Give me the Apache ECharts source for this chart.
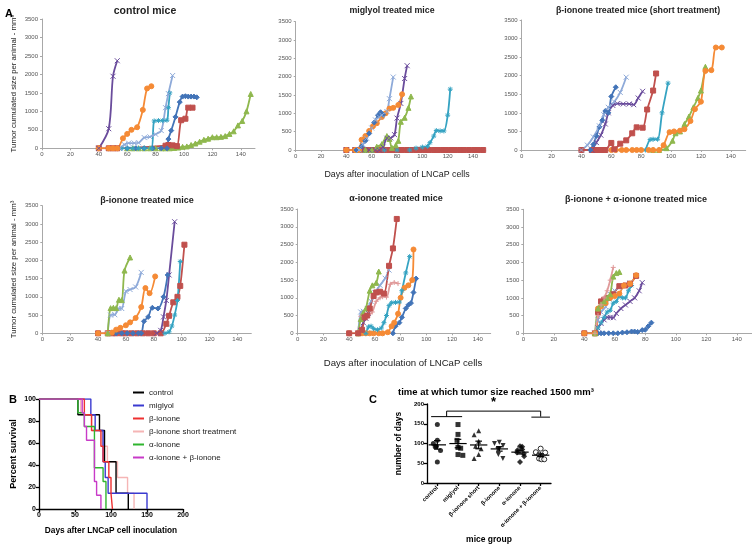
<!DOCTYPE html>
<html><head><meta charset="utf-8">
<script src="https://cdn.jsdelivr.net/npm/echarts@6/dist/echarts.min.js"></script>
<style>html,body{margin:0;padding:0;background:#fff}#c{width:752px;height:545px}</style>
</head><body><div id="c"></div>
<script>
// ---------- Panel A data: [day, tumour size mm3] ----------
const c_purple=[[40,0],[47,530],[50,1950],[53,2370]];
const c_orange=[[40,0],[47,0],[50,0],[53,0],[57,270],[60,390],[63,500],[67,570],[71,1040],[74,1620],[77,1680]];
const c_lightblue=[[55,0],[58,100],[61,140],[65,140],[68,150],[72,290],[76,310],[80,380],[84,480],[87,1100],[89,1480],[92,1970]];
const c_teal=[[56,0],[60,0],[64,0],[68,0],[72,0],[77,0],[79,740],[82,750],[85,750],[88,760],[89,1100],[90,1500]];
const c_darkblue=[[60,0],[66,0],[72,0],[78,0],[84,0],[88,0],[89,250],[91,480],[94,850],[97,1250],[99,1400],[101,1410],[103,1400],[105,1400],[107,1400],[109,1380]];
const c_red=[[40,0],[47,0],[50,0],[53,0],[87,70],[89,90],[92,80],[95,60],[98,760],[101,800],[103,1100],[106,1100]];
const c_green=[[60,0],[64,0],[68,0],[72,0],[76,0],[80,0],[84,0],[87,0],[90,0],[93,10],[96,20],[99,40],[102,50],[105,90],[108,130],[111,180],[114,230],[117,260],[120,300],[123,300],[126,310],[129,330],[132,390],[135,460],[138,620],[141,740],[144,1000],[147,1470]];

const m_lightblue=[[50,0],[53,150],[56,320],[60,600],[63,820],[66,900],[68,950],[72,1050],[74,1400],[77,1990]];
const m_darkblue=[[48,0],[52,100],[55,250],[58,450],[62,750],[65,950],[67,1030],[69,960]];
const m_orange=[[40,0],[47,0],[50,0],[52,280],[55,380],[58,520],[61,650],[64,730],[68,900],[71,1000],[74,1130],[77,1150],[81,1230],[84,1520]];
const m_purple=[[40,0],[47,0],[52,0],[58,0],[63,0],[66,0],[69,80],[72,320],[75,330],[78,420],[80,870],[83,1270],[86,1950],[88,2300]];
const m_green=[[48,0],[55,0],[60,0],[64,90],[68,160],[72,380],[74,300],[76,60],[79,130],[81,250],[83,770],[86,880],[89,1150],[91,1460]];
const m_teal=[[70,0],[80,0],[90,0],[95,50],[100,80],[104,100],[106,200],[109,380],[111,530],[114,520],[117,520],[120,950],[122,1660]];
const m_red=[[40,0],[47,0],[50,0],[53,0],[56,0],[60,0],[63,0],[67,0],[70,0],[74,0],[77,0],[81,0],[84,0],[88,0],[91,0],[95,0],[98,0],[102,0],[105,0],[109,0],[112,0],[116,0],[119,0],[123,0],[126,0],[130,0],[133,0],[137,0],[141,0],[144,0],[148,0]];

const s_lightblue=[[40,0],[44,130],[48,350],[52,650],[55,950],[58,1150],[62,1300],[66,1550],[70,1960]];
const s_darkblue=[[46,0],[48,150],[50,380],[52,620],[54,800],[56,1050],[58,1000],[60,1440],[63,1690]];
const s_purple=[[47,0],[50,200],[53,400],[56,700],[58,1000],[61,1200],[64,1250],[68,1240],[72,1240],[75,1220],[78,1400],[81,1580]];
const s_red=[[40,0],[47,0],[50,0],[53,0],[56,0],[60,190],[62,20],[66,170],[70,260],[74,450],[77,610],[81,600],[84,1090],[88,1600],[90,2060]];
const s_orange=[[60,0],[63,0],[67,0],[70,0],[74,0],[77,0],[80,0],[85,0],[88,0],[92,0],[95,130],[99,480],[102,500],[106,520],[109,560],[113,780],[116,1100],[120,1300],[123,2130],[127,2150],[130,2760],[134,2760]];
const s_teal=[[83,0],[86,280],[88,290],[91,290],[94,1000],[98,1800]];
const s_green=[[88,0],[92,0],[97,50],[101,250],[103,450],[106,500],[109,700],[112,900],[115,1150],[118,1400],[120,1600],[123,2240]];

const b_green=[[47,0],[49,690],[51,700],[53,690],[55,920],[57,910],[59,1720],[63,2080]];
const b_lightblue=[[47,0],[49,500],[52,510],[55,680],[57,680],[60,1150],[63,1200],[67,1270],[71,1670]];
const b_orange=[[40,0],[47,0],[50,20],[53,100],[56,150],[60,220],[63,300],[67,420],[71,720],[74,1240],[77,1100],[81,1560]];
const b_darkblue=[[53,0],[57,0],[61,0],[65,0],[69,0],[71,0],[73,330],[76,450],[79,700],[83,680],[87,1000],[90,1600]];
const b_purple=[[82,0],[85,80],[87,450],[89,900],[91,1600],[95,3060]];
const b_teal=[[88,0],[91,40],[93,200],[95,500],[97,900],[99,1970]];
const b_red=[[40,0],[47,0],[50,0],[53,0],[57,0],[60,0],[64,0],[68,0],[72,0],[76,0],[80,0],[85,0],[89,260],[91,480],[94,850],[97,1000],[99,1300],[102,2430]];

const a_red=[[40,0],[47,0],[50,100],[52,450],[54,500],[56,700],[59,1050],[61,1150],[64,1170],[67,1120],[71,1900],[74,2390],[77,3220]];
const a_green=[[47,0],[49,400],[51,580],[53,700],[56,1200],[58,1350],[61,1420],[63,1740]];
const a_lightblue=[[47,0],[49,600],[51,620],[54,700],[57,900],[60,1150],[64,1350],[68,1550],[71,1780]];
const a_pink=[[47,0],[49,480],[52,500],[55,520],[58,600],[61,900],[64,1000],[66,1030],[69,1020],[72,1380],[75,1430],[78,1400]];
const a_purple=[[47,0],[49,80],[51,300],[53,420],[55,560]];
const a_teal=[[53,0],[55,180],[57,200],[59,130],[62,100],[65,150],[67,300],[69,500],[71,780],[73,860],[76,870],[79,880],[81,1200],[84,1700],[87,2160]];
const a_orange=[[40,0],[47,0],[50,0],[53,0],[56,0],[59,0],[63,0],[66,0],[70,30],[73,200],[75,300],[78,550],[80,1000],[83,1280],[86,1350],[89,1500],[90,2360]];
const a_darkblue=[[74,0],[76,200],[79,300],[81,450],[84,700],[86,800],[88,850],[90,1150],[92,1540]];

const ab_darkblue=[[40,0],[47,0],[49,0],[51,0],[53,0],[56,0],[59,0],[62,0],[65,20],[68,30],[71,50],[73,50],[75,40],[78,90],[80,100],[82,200],[84,300]];
const ab_pink=[[47,0],[49,500],[51,800],[53,1000],[55,1200],[57,1500],[59,1860]];
const ab_green=[[47,0],[49,700],[51,820],[53,900],[55,1000],[57,1100],[59,1600],[61,1700],[63,1730]];
const ab_red=[[40,0],[47,0],[49,600],[51,900],[53,950],[56,1000],[59,1100],[63,1330],[67,1350],[70,1400],[74,1620]];
const ab_orange=[[40,0],[47,0],[49,700],[51,760],[54,850],[57,1000],[60,1050],[63,1120],[66,1350],[70,1400],[74,1640]];
const ab_lightblue=[[47,0],[49,380],[51,600],[54,750],[57,1100],[60,1200],[63,1300],[66,1350],[70,1420]];
const ab_teal=[[47,0],[49,150],[51,300],[53,450],[55,600],[57,650],[59,850],[61,900],[63,1050],[65,1000],[67,1000],[69,1200],[71,1350]];
const ab_purple=[[47,0],[49,150],[51,280],[53,380],[55,450],[57,450],[59,440],[61,560],[64,700],[67,800],[70,900],[73,1000],[76,1200],[78,1430]];

const A_xticks=[0,20,40,60,80,100,120,140];
const A_yticks=[0,500,1000,1500,2000,2500,3000,3500];

// ---------- Panel B: Kaplan-Meier steps [day, percent survival] ----------
const B_names=['control','miglyol','β-ionone','β-ionone short treatment','α-ionone','α-ionone + β-ionone'];
const surv_control=[[0,100],[54,85.7],[84,71.4],[91,42.9],[107,14.3],[124,0]];
const surv_miglyol=[[0,100],[72,85.7],[78,71.4],[89,42.9],[92,28.6],[96,14.3],[150,0]];
const surv_bion=[[0,100],[63,85.7],[73,71.4],[86,57.1],[89,42.9],[97,28.6],[100,14.3],[102,0]];
const surv_short=[[0,100],[58,85.7],[73,71.4],[88,57.1],[95,42.9],[109,28.6],[123,14.3],[132,0]];
const surv_aion=[[0,100],[54,87.5],[63,75],[77,37.5],[89,25],[93,0]];
const surv_ab=[[0,100],[60,87.5],[63,75],[66,62.5],[77,25],[80,12.5],[86,0]];
const B_xticks=[0,50,100,150,200];
const B_yticks=[0,20,40,60,80,100];

// ---------- Panel C: days to reach 1500 mm3 ----------
const C_groups=['control','miglyol','β-ionone short','β-ionone','α-ionone','α-ionone + β-ionone'];
const days_control=[148,108,100,93,92,82,53];
const days_miglyol=[148,123,108,90,88,72,70];
const days_short=[132,122,106,93,87,72,62];
const days_bion=[103,100,95,87,85,72,62];
const days_aion=[93,92,85,83,77,74,68,53];
const days_ab=[87,78,77,72,67,62,60,60];
const C_yticks=[0,50,100,150,200];
const sig_left=[0,1], sig_right=[5], sig_levels=[168,182], sig_star=205;

// ---------- styling ----------
const FONT='Liberation Sans';
const COL={darkblue:'#4274b8',red:'#c0504d',green:'#8fb84e',purple:'#6a4c9c',teal:'#35a3c2',orange:'#f58a35',lightblue:'#8eaad9',pink:'#e09a9a'};
const XP='path://M0,0L10,10M10,0L0,10';
const STP='path://M5,0L5,10M0,5L10,5M1.5,1.5L8.5,8.5M8.5,1.5L1.5,8.5';
const PLP='path://M5,0L5,10M0,5L10,5';
const SYM={darkblue:'diamond',red:'rect',green:'triangle',purple:XP,teal:STP,orange:'circle',lightblue:XP,pink:PLP};

const panels=[
 {l:42,t:19,w:213,h:129.3,title:'control mice',tx:140,ty:1,ts:10.5,yname:true,
  s:[['green',c_green],['red',c_red],['darkblue',c_darkblue],['teal',c_teal],['lightblue',c_lightblue],['orange',c_orange],['purple',c_purple]]},
 {l:295.7,t:21.7,w:190,h:128.3,title:'miglyol treated mice',tx:387,ty:1,ts:8.8,
  s:[['red',m_red],['teal',m_teal],['green',m_green],['purple',m_purple],['orange',m_orange],['darkblue',m_darkblue],['lightblue',m_lightblue]]},
 {l:521.7,t:20,w:224,h:130,title:'β-ionone treated mice (short treatment)',tx:633,ty:1,ts:8.8,
  s:[['green',s_green],['teal',s_teal],['orange',s_orange],['red',s_red],['purple',s_purple],['darkblue',s_darkblue],['lightblue',s_lightblue]]},
 {l:42.3,t:205.7,w:209,h:127.6,title:'β-ionone treated mice',tx:142,ty:191,ts:9,yname:true,
  s:[['red',b_red],['teal',b_teal],['purple',b_purple],['darkblue',b_darkblue],['orange',b_orange],['lightblue',b_lightblue],['green',b_green]]},
 {l:297.7,t:209,w:193,h:124.3,title:'α-ionone treated mice',tx:391,ty:189,ts:9,
  s:[['darkblue',a_darkblue],['orange',a_orange],['teal',a_teal],['purple',a_purple],['pink',a_pink],['lightblue',a_lightblue],['green',a_green],['red',a_red]]},
 {l:523.3,t:209.3,w:229,h:124,title:'β-ionone + α-ionone treated mice',tx:631,ty:190,ts:9,
  s:[['darkblue',ab_darkblue],['purple',ab_purple],['teal',ab_teal],['lightblue',ab_lightblue],['red',ab_red],['orange',ab_orange],['green',ab_green],['pink',ab_pink]]}
];

const grid=[],xAxis=[],yAxis=[],series=[],title=[];
const axGrey='#a8a8a8';
const plain=v=>String(v);
panels.forEach((p,i)=>{
  grid.push({left:p.l,top:p.t,width:p.w,height:p.h,containLabel:false});
  xAxis.push({type:'value',gridIndex:i,min:0,max:150,
    axisLine:{lineStyle:{color:axGrey,width:1}},
    axisTick:{show:true,length:2,lineStyle:{color:axGrey},customValues:A_xticks},
    axisLabel:{fontSize:6,color:'#555',fontFamily:FONT,margin:3,customValues:A_xticks,formatter:plain},
    splitLine:{show:false}});
  yAxis.push({type:'value',gridIndex:i,min:0,max:3500,
    axisLine:{show:true,lineStyle:{color:axGrey,width:1}},
    axisTick:{show:true,length:2,lineStyle:{color:axGrey},customValues:A_yticks},
    axisLabel:{fontSize:6,color:'#555',fontFamily:FONT,margin:4,customValues:A_yticks,formatter:plain},
    splitLine:{show:false},
    name:p.yname?'Tumor cumulated size per animal - mm³':'',nameLocation:'middle',nameRotate:90,nameGap:24,
    nameTextStyle:{fontSize:7.8,color:'#222',fontFamily:FONT}});
  title.push({text:p.title,left:p.tx,top:p.ty,textAlign:'center',textStyle:{fontSize:p.ts,fontWeight:'bold',color:'#222',fontFamily:FONT}});
  p.s.forEach(([k,d])=>{
    series.push({type:'line',xAxisIndex:i,yAxisIndex:i,data:d,smooth:0.3,symbol:SYM[k],symbolSize:5,
      lineStyle:{color:COL[k],width:1.8},itemStyle:{color:COL[k],borderColor:COL[k],borderWidth:1},
      emphasis:{disabled:true},z:2});
  });
});
title.push({text:'Days after inoculation of LNCaP cells',left:392,top:165,textAlign:'center',textStyle:{fontSize:8.8,fontWeight:'normal',color:'#222',fontFamily:FONT}});
title.push({text:'Days after inoculation of LNCaP cells',left:398,top:353,textAlign:'center',textStyle:{fontSize:9.6,fontWeight:'normal',color:'#222',fontFamily:FONT}});
title.push({text:'A',left:0,top:3,textStyle:{fontSize:11,fontWeight:'bold',color:'#000',fontFamily:FONT}});
title.push({text:'B',left:4,top:389,textStyle:{fontSize:11,fontWeight:'bold',color:'#000',fontFamily:FONT}});
title.push({text:'C',left:364,top:389,textStyle:{fontSize:11,fontWeight:'bold',color:'#000',fontFamily:FONT}});
title.push({text:'time at which tumor size reached 1500 mm³',left:393,top:382,textStyle:{fontSize:9.5,fontWeight:'bold',color:'#000',fontFamily:FONT}});

// Panel B
const bi=grid.length;
grid.push({left:39,top:399,width:144,height:110});
const blk={color:'#000',width:1.3};
xAxis.push({type:'value',gridIndex:bi,min:0,max:200,interval:50,
  axisLine:{lineStyle:blk},axisTick:{length:3,lineStyle:blk},
  axisLabel:{fontSize:7,fontWeight:'bold',color:'#000',fontFamily:FONT,margin:3,customValues:B_xticks},splitLine:{show:false},
  name:'Days after LNCaP cell inoculation',nameLocation:'middle',nameGap:18,
  nameTextStyle:{fontSize:8.3,fontWeight:'bold',color:'#000',fontFamily:FONT}});
yAxis.push({type:'value',gridIndex:bi,min:0,max:100,interval:20,
  axisLine:{show:true,lineStyle:blk},axisTick:{show:true,length:3,lineStyle:blk},
  axisLabel:{fontSize:7,fontWeight:'bold',color:'#000',fontFamily:FONT,margin:3,customValues:B_yticks},splitLine:{show:false},
  name:'Percent survival',nameLocation:'middle',nameRotate:90,nameGap:21,
  nameTextStyle:{fontSize:9,fontWeight:'bold',color:'#000',fontFamily:FONT}});
const B_cols=['#000000','#3a3ad0','#ee3030','#f5b5b5','#2fb52f','#c83ac8'];
const B_data=[surv_control,surv_miglyol,surv_bion,surv_short,surv_aion,surv_ab];
[3,0,1,2,4,5].forEach(j=>{
  series.push({type:'line',name:B_names[j],xAxisIndex:bi,yAxisIndex:bi,data:B_data[j],step:'end',showSymbol:false,
    lineStyle:{color:B_cols[j],width:1.4},itemStyle:{color:B_cols[j]},emphasis:{disabled:true}});
});

// Panel C
const ci=grid.length;
grid.push({left:427,top:404,width:124,height:80});
xAxis.push({type:'category',gridIndex:ci,data:C_groups,boundaryGap:true,jitter:10,jitterOverlap:false,jitterMargin:1,
  axisLine:{lineStyle:blk},axisTick:{show:true,alignWithLabel:true,length:3,lineStyle:blk},
  axisLabel:{interval:0,rotate:45,fontSize:5.8,fontWeight:'bold',color:'#000',fontFamily:FONT,margin:4},
  name:'mice group',nameLocation:'middle',nameGap:52,nameTextStyle:{fontSize:8.5,fontWeight:'bold',color:'#000',fontFamily:FONT}});
yAxis.push({type:'value',gridIndex:ci,min:0,max:200,interval:50,
  axisLine:{show:true,lineStyle:blk},axisTick:{show:true,length:3,lineStyle:blk},
  axisLabel:{fontSize:6,fontWeight:'bold',color:'#000',fontFamily:FONT,margin:3,customValues:C_yticks},splitLine:{show:false},
  name:'number of days',nameLocation:'middle',nameRotate:90,nameGap:24,
  nameTextStyle:{fontSize:8.5,fontWeight:'bold',color:'#000',fontFamily:FONT}});
const C_data=[days_control,days_miglyol,days_short,days_bion,days_aion,days_ab];
const INVTRI='path://M0,0L10,0L5,9Z';
const C_sym=['circle','rect','triangle',INVTRI,'diamond','circle'];
C_data.forEach((arr,g)=>{
  series.push({type:'scatter',xAxisIndex:ci,yAxisIndex:ci,data:arr.map(v=>[C_groups[g],v]),
    symbol:C_sym[g],symbolSize:g===4?6:5,
    itemStyle:g===5?{color:'#fff',borderColor:'#000',borderWidth:1}:{color:'#000'},emphasis:{disabled:true},z:3});
});
const stats=C_data.map((arr,g)=>{
  const n=arr.length,m=arr.reduce((a,b)=>a+b,0)/n;
  const sd=Math.sqrt(arr.reduce((a,b)=>a+(b-m)*(b-m),0)/(n-1));
  return [g,m,sd/Math.sqrt(n)];
});
series.push({type:'custom',xAxisIndex:ci,yAxisIndex:ci,data:stats,z:4,
  renderItem:(params,api)=>{
    const g=api.value(0),m=api.value(1),se=api.value(2);
    const c=api.coord([g,m]),hi=api.coord([g,m+se]),lo=api.coord([g,m-se]);
    const bw=api.size([1,0])[0];
    const st={stroke:'#000',lineWidth:1.2};
    const L=(x1,y1,x2,y2)=>({type:'line',shape:{x1,y1,x2,y2},style:st});
    return {type:'group',children:[
      L(c[0]-bw*0.42,c[1],c[0]+bw*0.42,c[1]),
      L(c[0],hi[1],c[0],lo[1]),
      L(c[0]-bw*0.16,hi[1],c[0]+bw*0.16,hi[1]),
      L(c[0]-bw*0.16,lo[1],c[0]+bw*0.16,lo[1])]};
  }});
series.push({type:'custom',xAxisIndex:ci,yAxisIndex:ci,data:[[0]],z:4,
  renderItem:(params,api)=>{
    const bw=api.size([1,0])[0];
    const xl0=api.coord([sig_left[0],0])[0]-bw*0.3, xl1=api.coord([sig_left[sig_left.length-1],0])[0]+bw*0.2;
    const xr=api.coord([sig_right[0],0])[0];
    const y0=api.coord([0,sig_levels[0]])[1], y1=api.coord([0,sig_levels[1]])[1];
    const xm=(xl0+xl1)/2;
    const st={stroke:'#000',lineWidth:1};
    const L=(x1,a,x2,b)=>({type:'line',shape:{x1,y1:a,x2,y2:b},style:st});
    const ys=api.coord([0,sig_star])[1];
    return {type:'group',children:[
      L(xl0,y0,xl1,y0),L(xm,y0,xm,y1),L(xm,y1,xr,y1),L(xr,y1,xr,y0),
      L(xr-bw*0.45,y0+0.5,xr+bw*0.45,y0+0.5),
      {type:'text',x:(xm+xr)/2,y:ys,style:{text:'*',fontSize:13,fontWeight:'bold',fill:'#000',align:'center',verticalAlign:'middle',fontFamily:FONT}}]};
  }});

const chart=echarts.init(document.getElementById('c'),null,{renderer:'canvas'});
chart.setOption({
  animation:false,backgroundColor:'#fff',
  title,grid,xAxis,yAxis,series,
  legend:{data:B_names,left:128,top:383,orient:'vertical',itemWidth:11,itemHeight:2,icon:'rect',itemGap:4,
    textStyle:{fontSize:8,color:'#222',fontFamily:FONT,lineHeight:9},selectedMode:false}
});
</script></body></html>
